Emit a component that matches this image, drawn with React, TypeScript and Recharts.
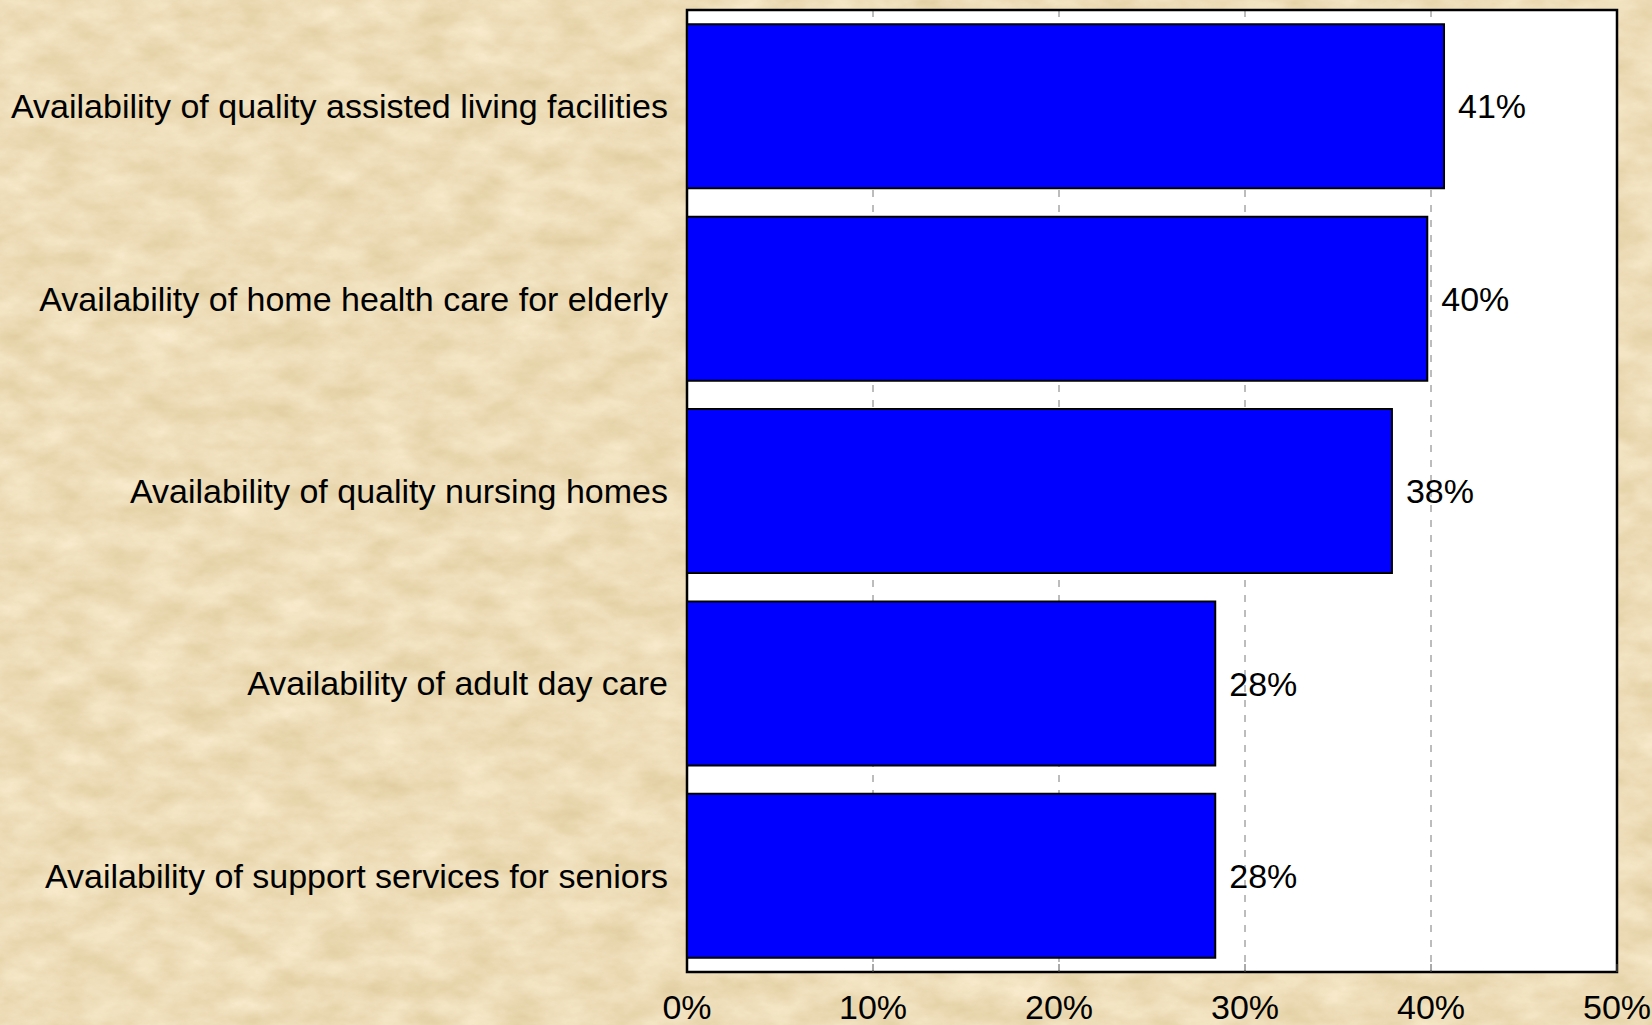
import React from "react"
import { Bar, BarChart, CartesianGrid, LabelList, ReferenceArea, XAxis, YAxis } from "recharts"

const categories = [
  "Availability of quality assisted living facilities",
  "Availability of home health care for elderly",
  "Availability of quality nursing homes",
  "Availability of adult day care",
  "Availability of support services for seniors",
]
const values = [40.7, 39.8, 37.9, 28.4, 28.4]
const valueLabels = ["41%", "40%", "38%", "28%", "28%"]
const xTicks = [0, 10, 20, 30, 40, 50]

const data = categories.map((name, i) => ({ name, value: values[i], label: valueLabels[i] }))

const font = "'Liberation Sans', Arial, Helvetica, sans-serif"

// parchment-ish paper behind the chart
function Parchment() {
  return (
    <svg width={1652} height={1025} style={{ position: "absolute", left: 0, top: 0 }}>
      <filter id="paper" x="0" y="0" width="100%" height="100%" colorInterpolationFilters="sRGB">
        <feTurbulence type="fractalNoise" baseFrequency="0.022 0.04" numOctaves={5} seed={7} />
        <feColorMatrix
          type="matrix"
          values="0.11 0 0 0 0.875  0.14 0 0 0 0.795  0.21 0 0 0 0.615  0 0 0 0 1"
        />
      </filter>
      <rect width={1652} height={1025} fill="#eedcb6" />
      <rect width={1652} height={1025} filter="url(#paper)" />
    </svg>
  )
}

export default function App() {
  return (
    <div style={{ position: "absolute", left: 0, top: 0, width: 1652, height: 1025, fontFamily: font }}>
      <Parchment />
      <div style={{ position: "absolute", left: 0, top: 0 }}>
        <BarChart
          width={1652}
          height={1025}
          data={data}
          layout="vertical"
          margin={{ top: 10, right: 35, bottom: 0, left: 0 }}
          barCategoryGap="7.4%"
        >
          <CartesianGrid
            horizontal={false}
            fill="#ffffff"
            fillOpacity={1}
            stroke="#7a7a7a"
            strokeDasharray="7 8"
          />
          <XAxis
            type="number"
            domain={[0, 50]}
            ticks={xTicks}
            tickFormatter={(v) => `${v}%`}
            height={53}
            tickSize={-8}
            tickMargin={31}
            tickLine={{ stroke: "#555", strokeWidth: 1 }}
            axisLine={{ stroke: "#000", strokeWidth: 2 }}
            tick={{ fontSize: 34, fill: "#000", fontFamily: font }}
          />
          <YAxis
            type="category"
            dataKey="name"
            width={687}
            tickSize={0}
            tickMargin={19}
            tickLine={false}
            axisLine={{ stroke: "#000", strokeWidth: 2 }}
            tick={{ fontSize: 34, fill: "#000", fontFamily: font }}
          />
          <Bar dataKey="value" fill="#0000ff" stroke="#000" strokeWidth={2} isAnimationActive={false}>
            <LabelList
              dataKey="label"
              position="right"
              offset={14}
              fill="#000"
              style={{ fontSize: 34, fontFamily: font }}
            />
          </Bar>
          <ReferenceArea x1={0} x2={50} fill="none" fillOpacity={0} stroke="#000" strokeWidth={2.5} ifOverflow="visible" />
        </BarChart>
      </div>
    </div>
  )
}
